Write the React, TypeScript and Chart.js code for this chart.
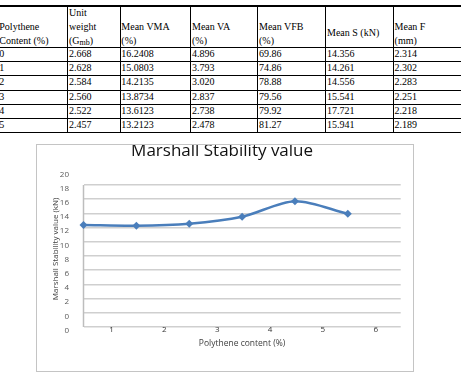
import React, { useEffect, useRef } from "react";
import { Chart, registerables } from "chart.js";

Chart.register(...registerables);

// Table columns
const polytheneContent = [0, 1, 2, 3, 4, 5];
const unitWeight = ["2.668", "2.628", "2.584", "2.560", "2.522", "2.457"];
const meanVMA = ["16.2408", "15.0803", "14.2135", "13.8734", "13.6123", "13.2123"];
const meanVA = ["4.896", "3.793", "3.020", "2.837", "2.738", "2.478"];
const meanVFB = ["69.86", "74.86", "78.88", "79.56", "79.92", "81.27"];
const meanS = [14.356, 14.261, 14.556, 15.541, 17.721, 15.941];
const meanF = ["2.314", "2.302", "2.283", "2.251", "2.218", "2.189"];

// Axis tick labels
const xTickValues = [0.5, 1.5, 2.5, 3.5, 4.5, 5.5];
const xTickLabels = ["1", "2", "3", "4", "5", "6"];
const yTickLabels = ["0", "0", "2", "4", "6", "8", "10", "12", "14", "16", "18", "20"];

const chartTitle = "Marshall Stability value";
const xTitle = "Polythene content (%)";
const yTitle = "Marshall Stability value (kN)";

// Table geometry
const colLines = [-2, 67.7, 120, 190.7, 257.7, 325.7, 393.3, 462];
const rowLines = [6, 47.7, 61.8, 75.9, 90, 104.1, 118.2, 132.3];

const serif = "'Liberation Serif', 'Times New Roman', serif";

function Cell({ col, top, children }: { col: number; top: number; children: React.ReactNode }) {
  return (
    <div
      style={{
        position: "absolute",
        left: colLines[col] + 1.3,
        top,
        height: 14,
        lineHeight: "14px",
        whiteSpace: "nowrap",
      }}
    >
      {children}
    </div>
  );
}

function DataTable() {
  const lineTops = [5.6, 19.6, 33.6];
  const header: { col: number; lines: (React.ReactNode | null)[] }[] = [
    { col: 0, lines: [null, "Polythene", "Content (%)"] },
    {
      col: 1,
      lines: [
        "Unit",
        "weight",
        <span>
          (G<span style={{ fontSize: 8, position: "relative", top: 1.5 }}>mb</span>)
        </span>,
      ],
    },
    { col: 2, lines: [null, "Mean VMA", "(%)"] },
    { col: 3, lines: [null, "Mean VA", "(%)"] },
    { col: 4, lines: [null, "Mean VFB", "(%)"] },
    { col: 6, lines: [null, "Mean F", "(mm)"] },
  ];
  const rows = polytheneContent.map((p, i) => [
    String(p),
    unitWeight[i],
    meanVMA[i],
    meanVA[i],
    meanVFB[i],
    meanS[i].toFixed(3),
    meanF[i],
  ]);

  return (
    <div style={{ position: "absolute", left: 0, top: 0, width: 461, height: 140, overflow: "hidden", fontFamily: serif, fontSize: 10, color: "#000" }}>
      {rowLines.map((y, i) => (
        <div
          key={"h" + i}
          style={{
            position: "absolute",
            left: colLines[0],
            width: colLines[colLines.length - 1] - colLines[0],
            top: y - (i === 0 || i === rowLines.length - 1 ? 0.75 : 0.5),
            height: i === 0 || i === rowLines.length - 1 ? 1.5 : 1,
            background: "#000",
          }}
        />
      ))}
      {colLines.map((x, i) => (
        <div
          key={"v" + i}
          style={{
            position: "absolute",
            left: x - 0.5,
            width: 1,
            top: rowLines[0],
            height: rowLines[rowLines.length - 1] - rowLines[0],
            background: "#000",
          }}
        />
      ))}
      {header.map((h) =>
        h.lines.map((t, j) =>
          t === null ? null : (
            <Cell key={h.col + "-" + j} col={h.col} top={lineTops[j]}>
              {t}
            </Cell>
          )
        )
      )}
      <Cell col={5} top={26.2}>
        Mean S (kN)
      </Cell>
      {rows.map((r, i) =>
        r.map((v, c) => (
          <Cell key={i + "_" + c} col={c} top={rowLines[i + 1] - 0.5}>
            {v}
          </Cell>
        ))
      )}
    </div>
  );
}

// Draws the value axis line from 0 up to the top gridline
const valueAxisLine = {
  id: "valueAxisLine",
  beforeDatasetsDraw(chart: any) {
    const { ctx, scales } = chart;
    const x = scales.x.getPixelForValue(0);
    ctx.save();
    ctx.strokeStyle = "#bdbdbd";
    ctx.lineWidth = 1.5;
    ctx.beginPath();
    ctx.moveTo(x, scales.y.getPixelForValue(20));
    ctx.lineTo(x, scales.y.getPixelForValue(0));
    ctx.stroke();
    ctx.restore();
  },
};

function StabilityChart() {
  const canvasRef = useRef<HTMLCanvasElement | null>(null);

  useEffect(() => {
    const canvas = canvasRef.current;
    if (!canvas) return;
    const sans = "'Open Sans', 'Noto Sans', sans-serif";
    const chart = new Chart(canvas, {
      type: "line",
      data: {
        datasets: [
          {
            data: polytheneContent.map((p, i) => ({ x: p, y: meanS[i] })),
            borderColor: "#4a7ebb",
            backgroundColor: "#4a7ebb",
            borderWidth: 2.5,
            tension: 0.3,
            pointStyle: "rectRot",
            pointRadius: 4,
            pointHoverRadius: 4,
            pointBorderWidth: 0,
            clip: false,
          },
        ],
      },
      plugins: [valueAxisLine],
      options: {
        responsive: false,
        animation: false,
        devicePixelRatio: 1,
        layout: { padding: { left: 6.5, right: 12.3, top: 0, bottom: 0 } },
        plugins: {
          legend: { display: false },
          tooltip: { enabled: false },
          title: {
            display: true,
            text: chartTitle,
            color: "#111",
            font: { family: sans, size: 17, weight: "normal" },
            padding: { top: -4, bottom: 9.4 },
          },
        },
        scales: {
          x: {
            type: "linear",
            min: 0,
            max: 6,
            afterBuildTicks: (scale: any) => {
              scale.ticks = xTickValues.map((v) => ({ value: v }));
            },
            afterFit: (scale: any) => {
              scale.height = 44;
            },
            grid: { display: false, drawTicks: false },
            border: { display: false },
            ticks: {
              autoSkip: false,
              maxRotation: 0,
              padding: -2.5,
              labelOffset: 1.5,
              color: "#333",
              font: { family: sans, size: 8 },
              callback: (_v: any, i: number) => xTickLabels[i],
            },
            title: {
              display: true,
              text: xTitle,
              color: "#404040",
              font: { family: sans, size: 8.5 },
              padding: { top: 0, bottom: 21.9 },
            },
          },
          y: {
            min: 0,
            max: 22,
            afterFit: (scale: any) => {
              scale.width = 40;
            },
            grid: {
              drawTicks: false,
              lineWidth: 1.5,
              color: (ctx: any) => (ctx.tick && ctx.tick.value > 20 ? "rgba(0,0,0,0)" : "#cfcfcf"),
            },
            border: { display: false },
            ticks: {
              stepSize: 2,
              padding: 14.5,
              labelOffset: 3.5,
              color: "#595959",
              font: { family: sans, size: 8 },
              callback: (_v: any, i: number) => yTickLabels[i],
            },
            title: {
              display: true,
              text: yTitle,
              color: "#404040",
              font: { family: sans, size: 8 },
              padding: { top: 7, bottom: 0 },
            },
          },
        },
      },
    } as any);
    return () => chart.destroy();
  }, []);

  return (
    <div
      style={{
        position: "absolute",
        left: 36,
        top: 144,
        width: 378,
        height: 228,
        boxSizing: "border-box",
        border: "1px solid #c4c4c4",
        background: "#fff",
      }}
    >
      <canvas ref={canvasRef} width={376} height={226} style={{ display: "block" }} />
    </div>
  );
}

export default function App() {
  return (
    <div style={{ position: "absolute", left: 0, top: 0, width: 461, height: 375, background: "#fff", overflow: "hidden" }}>
      <DataTable />
      <StabilityChart />
    </div>
  );
}
